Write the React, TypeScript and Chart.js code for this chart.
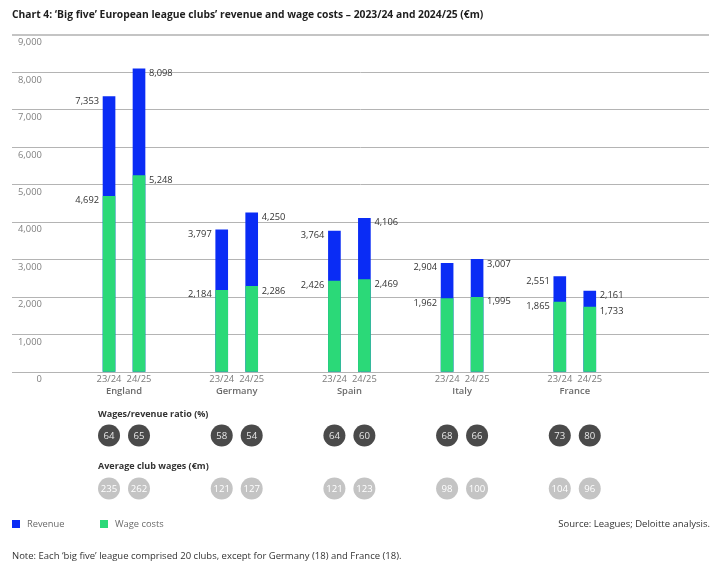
import { useEffect, useRef } from 'react';
import { Chart, registerables } from 'chart.js';

Chart.register(...registerables);

const categories = ['England', 'Germany', 'Spain', 'Italy', 'France'];
const seasons = ['23/24', '24/25'];
const revenue = [7353, 8098, 3797, 4250, 3764, 4106, 2904, 3007, 2551, 2161];
const wages = [4692, 5248, 2184, 2286, 2426, 2469, 1962, 1995, 1865, 1733];
const wageRatio = [64, 65, 58, 54, 64, 60, 68, 66, 73, 80];
const avgWages = [235, 262, 121, 127, 121, 123, 98, 100, 104, 96];
const yMax = 9000;
const yStep = 1000;

const title = 'Chart 4: ‘Big five’ European league clubs’ revenue and wage costs – 2023/24 and 2024/25 (€m)';
const ratioHeading = 'Wages/revenue ratio (%)';
const avgHeading = 'Average club wages (€m)';
const legendLabels = ['Revenue', 'Wage costs'];
const sourceText = 'Source: Leagues; Deloitte analysis.';
const noteText = 'Note: Each ‘big five’ league comprised 20 clubs, except for Germany (18) and France (18).';

const FONT = '"Open Sans", sans-serif';
const BLUE = '#0a2cf5';
const GREEN = '#2bd978';
const PAIR = 0.266;

const fmt = (v: number) => v.toLocaleString('en-US');

export default function App() {
  const ref = useRef<HTMLCanvasElement>(null);

  useEffect(() => {
    document.body.style.margin = '0';
    const canvas = ref.current!;
    const positions = revenue.map((_, i) => Math.floor(i / 2) + ((i % 2) - 0.5) * PAIR);

    const extras = {
      id: 'extras',
      afterDraw(chart: any) {
        const ctx: CanvasRenderingContext2D = chart.ctx;
        const xs = chart.scales.x;
        const ys = chart.scales.y;
        ctx.save();

        // title
        ctx.font = `bold 10.3px ${FONT}`;
        ctx.fillStyle = '#1e1e1e';
        ctx.textAlign = 'left';
        ctx.textBaseline = 'middle';
        ctx.fillText(title, 12, 15);

        // bar value labels
        ctx.font = `9.3px ${FONT}`;
        ctx.fillStyle = '#333';
        positions.forEach((p, i) => {
          const cx = xs.getPixelForValue(p);
          const left = i % 2 === 0;
          ctx.textAlign = left ? 'right' : 'left';
          const lx = left ? cx - 10 : cx + 10;
          ctx.fillText(fmt(revenue[i]), lx, ys.getPixelForValue(revenue[i]) + 4.5);
          ctx.fillText(fmt(wages[i]), lx, ys.getPixelForValue(wages[i]) + 4.5);
        });

        // season labels
        ctx.textAlign = 'center';
        ctx.font = `9.4px ${FONT}`;
        ctx.fillStyle = '#7a7a7a';
        positions.forEach((p, i) => {
          ctx.fillText(seasons[i % 2], xs.getPixelForValue(p), 379);
        });
        // country labels
        ctx.font = `600 9.4px ${FONT}`;
        ctx.fillStyle = '#6a6a6a';
        categories.forEach((c, g) => {
          ctx.fillText(c, xs.getPixelForValue(g), 391);
        });

        const firstX = xs.getPixelForValue(positions[0]);
        const R = 11;
        // headings
        ctx.textAlign = 'left';
        ctx.font = `bold 9px ${FONT}`;
        ctx.fillStyle = '#333';
        ctx.fillText(ratioHeading, firstX - R, 414.5);
        ctx.fillText(avgHeading, firstX - R, 466);

        // circles
        const drawRow = (vals: number[], y: number, fill: string, txt: string) => {
          vals.forEach((v, i) => {
            const cx = xs.getPixelForValue(positions[i]);
            ctx.beginPath();
            ctx.arc(cx, y, R, 0, Math.PI * 2);
            ctx.fillStyle = fill;
            ctx.fill();
            ctx.fillStyle = txt;
            ctx.textAlign = 'center';
            ctx.font = `9.6px ${FONT}`;
            ctx.fillText(String(v), cx, y + 0.5);
          });
        };
        drawRow(wageRatio, 435.5, '#4a4a4a', '#e8e8e8');
        drawRow(avgWages, 488.5, '#c4c4c4', '#ffffff');

        // legend
        ctx.font = `9.3px ${FONT}`;
        ctx.textAlign = 'left';
        ctx.fillStyle = BLUE;
        ctx.fillRect(12, 520, 8, 8);
        ctx.fillStyle = GREEN;
        ctx.fillRect(100, 520, 8, 8);
        ctx.fillStyle = '#6a6a6a';
        ctx.fillText(legendLabels[0], 27, 524);
        ctx.fillText(legendLabels[1], 115, 524);

        // source
        ctx.font = `9.5px ${FONT}`;
        ctx.fillStyle = '#333';
        ctx.textAlign = 'right';
        ctx.fillText(sourceText, 710, 524);

        // note
        ctx.textAlign = 'left';
        ctx.fillText(noteText, 12, 556);

        ctx.restore();
      },
    };

    const chart = new Chart(canvas, {
      type: 'bar',
      data: {
        datasets: [
          {
            label: legendLabels[1],
            data: positions.map((p, i) => ({ x: p, y: wages[i] })),
            backgroundColor: GREEN,
            barThickness: 12,
            grouped: false,
            order: 0,
          },
          {
            label: legendLabels[0],
            data: positions.map((p, i) => ({ x: p, y: revenue[i] })),
            backgroundColor: BLUE,
            barThickness: 12,
            grouped: false,
            order: 1,
          },
        ],
      },
      options: {
        responsive: false,
        animation: false,
        devicePixelRatio: 1,
        layout: { padding: { left: 12, right: 11, top: 35, bottom: 198 } },
        plugins: { legend: { display: false }, tooltip: { enabled: false }, title: { display: false } },
        scales: {
          x: {
            type: 'linear',
            min: -0.994,
            max: 5.191,
            offset: false,
            display: false,
          },
          y: {
            min: 0,
            max: yMax,
            afterFit: (scale: any) => {
              scale.width = 0;
            },
            border: { display: false },
            grid: {
              color: (c: any) => (c.tick && c.tick.value === yMax ? '#c4c4c4' : '#b4b4b4'),
              lineWidth: (c: any) => (c.tick && c.tick.value === yMax ? 2 : 1),
              drawTicks: false,
            },
            ticks: {
              stepSize: yStep,
              mirror: true,
              crossAlign: 'far',
              padding: 6,
              labelOffset: 7.5,
              color: '#808080',
              font: { family: FONT, size: 9.4 },
              callback: (v: any) => fmt(Number(v)),
            },
          },
        },
      },
      plugins: [extras],
    } as any);

    return () => chart.destroy();
  }, []);

  return <canvas ref={ref} width={720} height={570} style={{ display: 'block', width: 720, height: 570 }} />;
}
